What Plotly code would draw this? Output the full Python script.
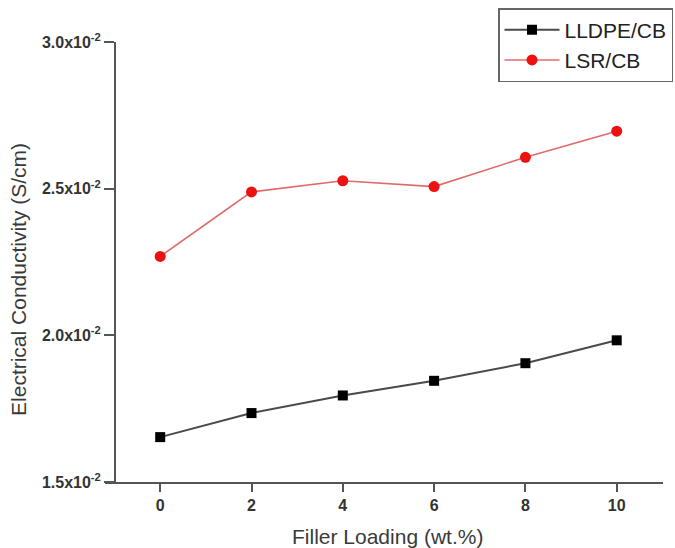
import plotly.graph_objects as go

filler_loading = [0, 2, 4, 6, 8, 10]
lldpe_cb = [1.653e-2, 1.735e-2, 1.795e-2, 1.845e-2, 1.905e-2, 1.983e-2]
lsr_cb = [2.269e-2, 2.489e-2, 2.527e-2, 2.507e-2, 2.607e-2, 2.696e-2]

y_tickvals = [1.5e-2, 2.0e-2, 2.5e-2, 3.0e-2]
y_ticktext = ["1.5x10<sup>-2</sup>", "2.0x10<sup>-2</sup>", "2.5x10<sup>-2</sup>", "3.0x10<sup>-2</sup>"]
x_tickvals = [0, 2, 4, 6, 8, 10]

FONT = "Arial, Liberation Sans, sans-serif"
AX = "#555555"

fig = go.Figure()
fig.add_trace(go.Scatter(
    x=filler_loading, y=lldpe_cb, name="LLDPE/CB", mode="lines+markers",
    line=dict(color="#4a4a4a", width=2),
    marker=dict(symbol="square", size=10, color="#000000"),
))
fig.add_trace(go.Scatter(
    x=filler_loading, y=lsr_cb, name="LSR/CB", mode="lines+markers",
    line=dict(color="#e06a6a", width=1.6),
    marker=dict(symbol="circle", size=11, color="#ee1111"),
))

fig.update_layout(
    width=675, height=548,
    margin=dict(l=105, r=12, t=42, b=66, autoexpand=False),
    paper_bgcolor="white", plot_bgcolor="white",
    font=dict(family=FONT, color="#333333"),
    showlegend=True,
    legend=dict(
        xref="container", yref="container",
        x=673 / 675, y=1 - 8 / 548, xanchor="right", yanchor="top",
        bordercolor="#666666", borderwidth=1.5, bgcolor="white",
        font=dict(size=21, color="#222222", family=FONT),
        tracegroupgap=0, itemwidth=55,
    ),
    xaxis=dict(
        range=[-1.209, 11.014], tickvals=x_tickvals,
        showline=True, linecolor=AX, linewidth=2,
        ticks="outside", ticklen=8, tickwidth=1.5, tickcolor=AX,
        showgrid=False, zeroline=False,
        tickfont=dict(size=16, family=FONT, color="#333333", weight="bold"),
    ),
    yaxis=dict(
        range=[1.5e-2, 3.0e-2], tickvals=y_tickvals, ticktext=y_ticktext,
        anchor="free", position=0.0179,
        showline=True, linecolor=AX, linewidth=2,
        ticks="outside", ticklen=10, tickwidth=1.5, tickcolor=AX,
        showgrid=False, zeroline=False,
        tickfont=dict(size=16, family=FONT, color="#333333", weight="bold"),
    ),
    annotations=[
        dict(text="Filler Loading (wt.%)", xref="paper", yref="paper",
             x=(387 - 105) / 558, y=(482.3 - 537) / 440.6,
             xanchor="center", yanchor="middle", showarrow=False,
             font=dict(size=21, color="#3a3a3a", family=FONT)),
        dict(text="Electrical Conductivity (S/cm)", xref="paper", yref="paper",
             x=(19 - 105) / 558, y=(482.3 - 280) / 440.6, textangle=-90,
             xanchor="center", yanchor="middle", showarrow=False,
             font=dict(size=21, color="#3a3a3a", family=FONT)),
    ],
)

fig.write_html("out.html")
